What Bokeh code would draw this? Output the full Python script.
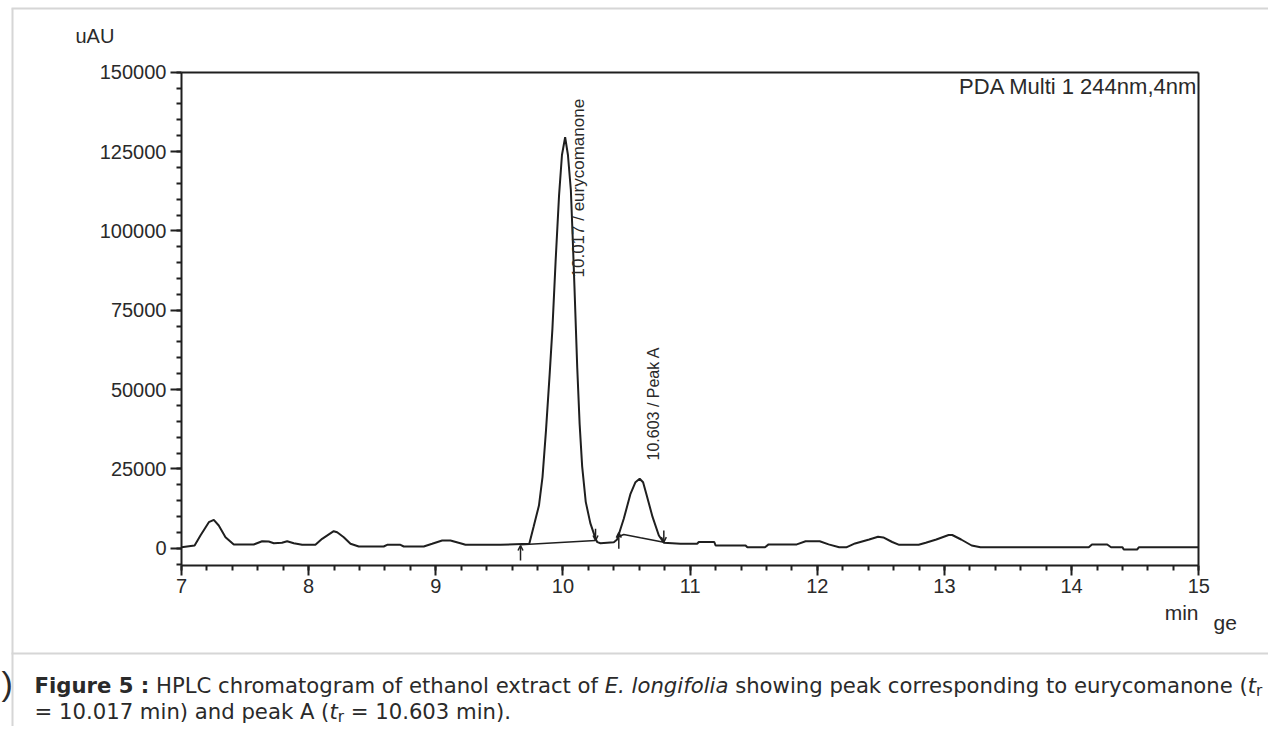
import subprocess
import numpy as np
from bokeh.plotting import figure
from bokeh.models import (LinearAxis, Range1d, SingleIntervalTicker, FixedTicker,
                          BasicTickFormatter, Label, Arrow, OpenHead)
from bokeh.embed import file_html
from bokeh.resources import INLINE

# ---------------- data ----------------
time_min = [7.0, 7.103, 7.149, 7.215, 7.254, 7.293, 7.346, 7.411, 7.568, 7.634,
            7.686, 7.726, 7.79, 7.831, 7.883, 7.949, 8.053, 8.106, 8.197, 8.224,
            8.276, 8.329, 8.394, 8.59, 8.617, 8.722, 8.748, 8.905, 8.971, 9.05,
            9.115, 9.207, 9.233, 9.508, 9.735, 9.769, 9.811, 9.839, 9.866, 9.895,
            9.917, 9.942, 9.969, 9.992, 10.017, 10.039, 10.062, 10.076, 10.09, 10.112,
            10.131, 10.151, 10.179, 10.215, 10.256, 10.27, 10.295, 10.40, 10.426, 10.478,
            10.531, 10.57, 10.603, 10.63, 10.655, 10.705, 10.754, 10.793, 10.924, 11.055,
            11.068, 11.19, 11.2, 11.436, 11.45, 11.589, 11.617, 11.839, 11.908, 12.019,
            12.089, 12.172, 12.228, 12.297, 12.408, 12.478, 12.519, 12.589, 12.644, 12.797,
            12.853, 12.936, 13.033, 13.061, 13.131, 13.214, 13.283, 14.135, 14.16, 14.28,
            14.31, 14.40, 14.41, 14.515, 14.53, 15.0]
signal_uau = [300, 850, 4000, 8190, 8900, 7150, 3470, 1170, 1170, 2200,
              2100, 1580, 1700, 2200, 1580, 1070, 1070, 2960, 5360, 5040,
              3470, 1390, 540, 540, 1070, 1070, 540, 540, 1390, 2430,
              2430, 1390, 1070, 1070, 1400, 6740, 13450, 22400, 36900, 54700,
              69200, 90400, 111100, 123900, 129500, 123900, 112800, 98300, 82650, 57000,
              39100, 25700, 14600, 7900, 3000, 1900, 1580, 1890, 2740, 9260,
              17140, 20800, 21900, 20800, 17140, 9770, 4000, 1700, 1390, 1390,
              1950, 1950, 850, 850, 280, 280, 1200, 1200, 2170, 2170,
              1200, 280, 280, 1500, 2740, 3620, 3400, 1950, 1070, 1070,
              1730, 2740, 4160, 4160, 2740, 850, 280, 280, 1170, 1170,
              315, 315, -410, -410, 315, 315]

# integration baselines drawn under the two integrated peaks
base1_t = [9.666, 10.256]
base1_v = [1070, 2400]
base2_t = [10.439, 10.478, 10.61, 10.793]
base2_v = [3690, 4320, 3270, 1890]

# peak start / end event markers (arrows)
marker_t = [9.666, 10.256, 10.439, 10.793]
marker_v_from = [-3900, 6100, -200, 5600]
marker_v_to = [850, 2430, 4900, 1890]

peak_t = [10.017, 10.603]
peak_names = ["eurycomanone", "Peak A"]

x_ticks = [7, 8, 9, 10, 11, 12, 13, 14, 15]
x_tick_labels = ["7", "8", "9", "10", "11", "12", "13", "14", "15"]
y_ticks = [0, 25000, 50000, 75000, 100000, 125000, 150000]
y_tick_labels = ["0", "25000", "50000", "75000", "100000", "125000", "150000"]

y_unit = "uAU"
x_unit = "min"
detector = "PDA Multi 1 244nm,4nm"

# ---------------- layout (picture pixel calibration) ----------------
W, H = 1268, 726
PX_T0 = 181.0              # picture x of first x tick
PX_PER_MIN = 127.16
PY_V0 = 547.7              # picture y of value 0
PX_PER_UAU = 476.0 / 150000.0


def t_at(px):
    return x_ticks[0] + (px - PX_T0) / PX_PER_MIN


def v_at(py):
    return (PY_V0 - py) / PX_PER_UAU


p = figure(width=W, height=H, output_backend="svg", toolbar_location=None,
           x_axis_type=None, y_axis_type=None, title=None,
           x_range=Range1d(t_at(0), t_at(W)),
           y_range=Range1d(v_at(H), v_at(0)),
           min_border=0, min_border_left=0, min_border_right=0,
           min_border_top=0, min_border_bottom=0)
p.outline_line_color = None
p.background_fill_color = "white"
p.border_fill_color = "white"

INK = "#1f1f1f"
TXT = "#2a2a2a"
GRAY = "#d6d6d6"
FONT = "Liberation Sans"
MID = 0.3465   # em offset of the 'middle' anchor above the alphabetic baseline

y_bottom = v_at(565)


def plain_axis(side, loc, bounds, color, width):
    ax = LinearAxis(fixed_location=loc, ticker=FixedTicker(ticks=[]))
    if bounds is not None:
        ax.bounds = bounds
    ax.axis_line_color = color
    ax.axis_line_width = width
    ax.major_tick_line_color = None
    ax.minor_tick_line_color = None
    ax.major_label_text_color = None
    p.add_layout(ax, side)
    return ax


# outer page borders (light gray)
plain_axis("above", v_at(7.5), (t_at(11), t_at(W)), GRAY, 2)
plain_axis("left", t_at(12), (v_at(H), v_at(7.5)), GRAY, 2)
plain_axis("below", v_at(652.5), (t_at(11), t_at(W)), GRAY, 2)

# chart box top & right
plain_axis("above", y_ticks[-1], (x_ticks[0], x_ticks[-1]), INK, 2)
plain_axis("right", x_ticks[-1], (y_bottom, y_ticks[-1]), INK, 2)

# y axis
yax = LinearAxis(fixed_location=x_ticks[0], bounds=(y_bottom, y_ticks[-1]),
                 ticker=SingleIntervalTicker(interval=y_ticks[1] - y_ticks[0], num_minor_ticks=5),
                 formatter=BasicTickFormatter(use_scientific=False))
yax.major_label_overrides = {float(k): v for k, v in zip(y_ticks, y_tick_labels)}
yax.axis_line_color = INK
yax.axis_line_width = 2
yax.major_tick_line_color = INK
yax.major_tick_line_width = 2
yax.minor_tick_line_color = INK
yax.minor_tick_line_width = 2
yax.major_tick_out = 11
yax.major_tick_in = 0
yax.minor_tick_out = 5
yax.minor_tick_in = 0
yax.major_label_standoff = 4
yax.major_label_text_font = FONT
yax.major_label_text_font_size = "20px"
yax.major_label_text_color = TXT
p.add_layout(yax, "left")

# x axis
xax = LinearAxis(fixed_location=y_bottom, bounds=(x_ticks[0], x_ticks[-1]),
                 ticker=SingleIntervalTicker(interval=1, num_minor_ticks=5))
xax.major_label_overrides = {float(k): v for k, v in zip(x_ticks, x_tick_labels)}
xax.axis_line_color = INK
xax.axis_line_width = 2
xax.major_tick_line_color = INK
xax.major_tick_line_width = 2
xax.minor_tick_line_color = INK
xax.minor_tick_line_width = 2
xax.major_tick_out = 10
xax.major_tick_in = 0
xax.minor_tick_out = 5
xax.minor_tick_in = 0
xax.major_label_standoff = 3
xax.major_label_text_font = FONT
xax.major_label_text_font_size = "20px"
xax.major_label_text_color = TXT
p.add_layout(xax, "below")

# chromatogram trace and integration baselines
p.line(time_min, signal_uau, line_color=INK, line_width=2)
p.line(base1_t, base1_v, line_color=INK, line_width=1.5)
p.line(base2_t, base2_v, line_color=INK, line_width=1.5)

for t, v0, v1 in zip(marker_t, marker_v_from, marker_v_to):
    p.add_layout(Arrow(x_start=t, y_start=v0, x_end=t, y_end=v1,
                       line_color=INK, line_width=1.5,
                       end=OpenHead(size=5, line_color=INK, line_width=1.5)))

# peak labels (rotated)
label_px = [577.5, 653.3]
label_py = [277.0, 460.0]
label_sizes = ["17px", "16px"]
for t, name, lx, ly, fs in zip(peak_t, peak_names, label_px, label_py, label_sizes):
    p.add_layout(Label(x=t_at(lx), y=v_at(ly), text=f"{t:.3f} / {name}", angle=np.pi / 2,
                       text_align="left", text_baseline="middle",
                       text_font=FONT, text_font_size=fs, text_color=TXT))


def text_at(px, baseline_py, text, size, align="left", font=FONT, style="normal"):
    p.add_layout(Label(x=t_at(px), y=v_at(baseline_py - MID * size), text=text,
                       text_align=align, text_baseline="middle",
                       text_font=font, text_font_size=f"{size:.1f}px",
                       text_font_style=style, text_color=TXT))


# axis unit labels, detector note
text_at(75, 42.7, y_unit, 20)
text_at(1198, 619.5, x_unit, 21, align="right")
text_at(1197, 93.3, detector, 22, align="right")
# stray page fragments visible in the reference
text_at(1213, 629, "ge", 21)
text_at(1, 694, ")", 34)

# ---------------- caption ----------------
CAP_FONT = "DejaVu Sans"
_font_cache = {}


def _font_file(pattern):
    if pattern not in _font_cache:
        try:
            out = subprocess.run(["fc-match", "-f", "%{file}", pattern],
                                 capture_output=True, text=True, timeout=5).stdout.strip()
        except Exception:
            out = ""
        _font_cache[pattern] = out or None
    return _font_cache[pattern]


def text_width(text, style, size):
    pattern = {"normal": "DejaVu Sans", "bold": "DejaVu Sans:bold",
               "italic": "DejaVu Sans:oblique"}[style]
    try:
        from PIL import ImageFont
        return ImageFont.truetype(_font_file(pattern), size).getlength(text)
    except Exception:
        return 0.6 * size * len(text)


line1 = [("Figure 5 :", "bold"), (" HPLC chromatogram of ethanol extract of ", "normal"),
         ("E. longifolia", "italic"), (" showing peak corresponding to eurycomanone (", "normal"),
         ("t", "italic"), ("r", "sub")]
line2 = [("= 10.017 min) and peak A (", "normal"), ("t", "italic"), ("r", "sub"),
         (" = 10.603 min).", "normal")]

CAP_X0 = 34.0
CAP_TARGET = 1256.0     # picture x where "(t" of line 1 ends


def run_width(pieces, size):
    w = 0.0
    for txt, st in pieces:
        if st == "sub":
            continue
        w += text_width(txt, st, size)
    return w


base_size = 20.0
w0 = run_width(line1, base_size)
cap_size = base_size * (CAP_TARGET - CAP_X0) / w0 if w0 > 0 else base_size
cap_size = max(16.0, min(22.0, cap_size))


def place_run(pieces, baseline_py):
    x = CAP_X0
    for txt, st in pieces:
        size = cap_size
        base = baseline_py
        style = st
        if st == "sub":
            size = cap_size * 0.72
            base = baseline_py + cap_size * 0.17
            style = "normal"
        lead = txt[:len(txt) - len(txt.lstrip())]
        x_draw = x + (text_width(lead, style, size) if lead else 0.0)
        text_at(x_draw, base, txt.strip(), size, font=CAP_FONT, style=style)
        x += text_width(txt, style, size)


place_run(line1, 692)
place_run(line2, 718)

open("out.html", "w").write(file_html(p, INLINE))
